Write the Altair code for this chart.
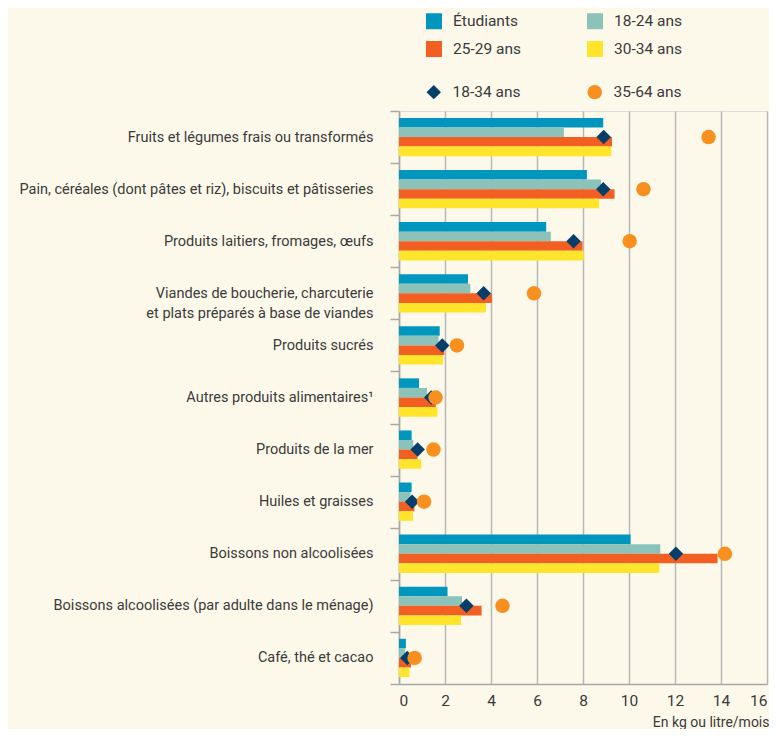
import altair as alt
import pandas as pd

categories = [
    "Fruits et légumes frais ou transformés",
    "Pain, céréales (dont pâtes et riz), biscuits et pâtisseries",
    "Produits laitiers, fromages, œufs",
    "Viandes de boucherie, charcuterie|et plats préparés à base de viandes",
    "Produits sucrés",
    "Autres produits alimentaires¹",
    "Produits de la mer",
    "Huiles et graisses",
    "Boissons non alcoolisées",
    "Boissons alcoolisées (par adulte dans le ménage)",
    "Café, thé et cacao",
]

bar_series = ["Étudiants", "18-24 ans", "25-29 ans", "30-34 ans"]
bar_colors = ["#0096bd", "#8bc3ba", "#f25f22", "#ffe42c"]

etudiants = [8.88, 8.17, 6.40, 3.00, 1.77, 0.87, 0.55, 0.55, 10.07, 2.11, 0.30]
ans_18_24 = [7.17, 8.78, 6.60, 3.10, 1.72, 1.22, 0.62, 0.50, 11.36, 2.74, 0.27]
ans_25_29 = [9.26, 9.37, 7.98, 4.04, 1.97, 1.60, 0.80, 0.67, 13.85, 3.59, 0.52]
ans_30_34 = [9.23, 8.70, 8.03, 3.78, 1.91, 1.67, 0.97, 0.61, 11.32, 2.70, 0.45]

point_series = ["18-34 ans", "35-64 ans"]
point_colors = ["#063e6a", "#f7901e"]
point_shapes = ["diamond", "circle"]
ans_18_34 = [8.90, 8.88, 7.59, 3.68, 1.88, 1.40, 0.81, 0.57, 12.04, 2.93, 0.36]
ans_35_64 = [13.46, 10.63, 10.03, 5.87, 2.52, 1.59, 1.50, 1.09, 14.17, 4.50, 0.68]

x_ticks = [0, 2, 4, 6, 8, 10, 12, 14, 16]

bar_rows = []
for i, c in enumerate(categories):
    for s, vals in zip(bar_series, [etudiants, ans_18_24, ans_25_29, ans_30_34]):
        bar_rows.append({"cat": c, "serie": s, "val": vals[i]})
bars_df = pd.DataFrame(bar_rows)

pt_rows = []
for i, c in enumerate(categories):
    for s, vals in zip(point_series, [ans_18_34, ans_35_64]):
        pt_rows.append({"cat": c, "groupe": s, "val": vals[i]})
pts_df = pd.DataFrame(pt_rows)

FONT = "Roboto"
TXT = "#3a3a3a"
GRID = "#b8b8b8"

x_enc = alt.X(
    "val:Q",
    scale=alt.Scale(domain=[0, 16], nice=False),
    axis=alt.Axis(
        values=x_ticks,
        grid=True,
        gridColor=GRID,
        gridWidth=1.5,
        ticks=False,
        domainColor="#a8a8a8",
        domainWidth=1.5,
        labelFontSize=15.5,
        labelColor=TXT,
        labelPadding=9,
        title="En kg ou litre/mois",
        titleFontSize=14,
        titleFontWeight="normal",
        titleColor=TXT,
        titleAnchor="end",
        titleAlign="right",
        titleBaseline="alphabetic",
        titleX=370,
        titleY=42,
    ),
)

y_enc = alt.Y(
    "cat:N",
    sort=categories,
    scale=alt.Scale(paddingInner=0, paddingOuter=0),
    axis=alt.Axis(
        title=None,
        tickBand="extent",
        tickSize=9,
        tickColor="#a8a8a8",
        tickWidth=1.5,
        domainColor="#a8a8a8",
        domainWidth=1.5,
        labelFontSize=14.5,
        labelColor=TXT,
        labelPadding=17,
        labelLimit=400,
        labelLineHeight=20,
        labelExpr="split(datum.label, '|')",
    ),
)

bars = alt.Chart(bars_df).mark_bar().encode(
    x=x_enc,
    y=y_enc,
    yOffset=alt.YOffset(
        "serie:N",
        sort=bar_series,
        scale=alt.Scale(domain=bar_series, paddingInner=0, paddingOuter=0.72),
    ),
    color=alt.Color(
        "serie:N",
        sort=bar_series,
        scale=alt.Scale(domain=bar_series, range=bar_colors),
        legend=alt.Legend(
            title=None,
            orient="none",
            legendX=27,
            legendY=-98,
            columns=2,
            direction="horizontal",
            symbolType="square",
            symbolSize=256,
            symbolStrokeWidth=0,
            labelFontSize=15.5,
            labelColor=TXT,
            labelOffset=11,
            rowPadding=11,
            columnPadding=66,
            padding=0,
        ),
    ),
)

pt_legend = alt.Legend(
    title=None,
    orient="none",
    legendX=27,
    legendY=-27,
    columns=2,
    direction="horizontal",
    symbolSize=210,
    symbolStrokeWidth=0,
    labelFontSize=15.5,
    labelColor=TXT,
    labelOffset=11,
    columnPadding=66,
    padding=0,
)

points = alt.Chart(pts_df).mark_point(filled=True, opacity=1, size=210, strokeWidth=0).encode(
    x="val:Q",
    y=alt.Y("cat:N", sort=categories),
    color=alt.Color(
        "groupe:N",
        sort=point_series,
        scale=alt.Scale(domain=point_series, range=point_colors),
        legend=pt_legend,
    ),
    shape=alt.Shape(
        "groupe:N",
        sort=point_series,
        scale=alt.Scale(domain=point_series, range=point_shapes),
        legend=pt_legend,
    ),
)

chart = (
    alt.layer(bars, points)
    .resolve_scale(color="independent", shape="independent")
    .properties(
        width=368,
        height=573,
        background="#fdf9ea",
        padding={"left": 391, "top": 103, "right": 2, "bottom": 45},
        autosize=alt.AutoSizeParams(type="none"),
    )
    .configure_view(stroke="#a8a8a8", strokeWidth=2)
    .configure(font=FONT)
)

chart.save("out.html", embed_options={"renderer": "svg", "actions": False})
